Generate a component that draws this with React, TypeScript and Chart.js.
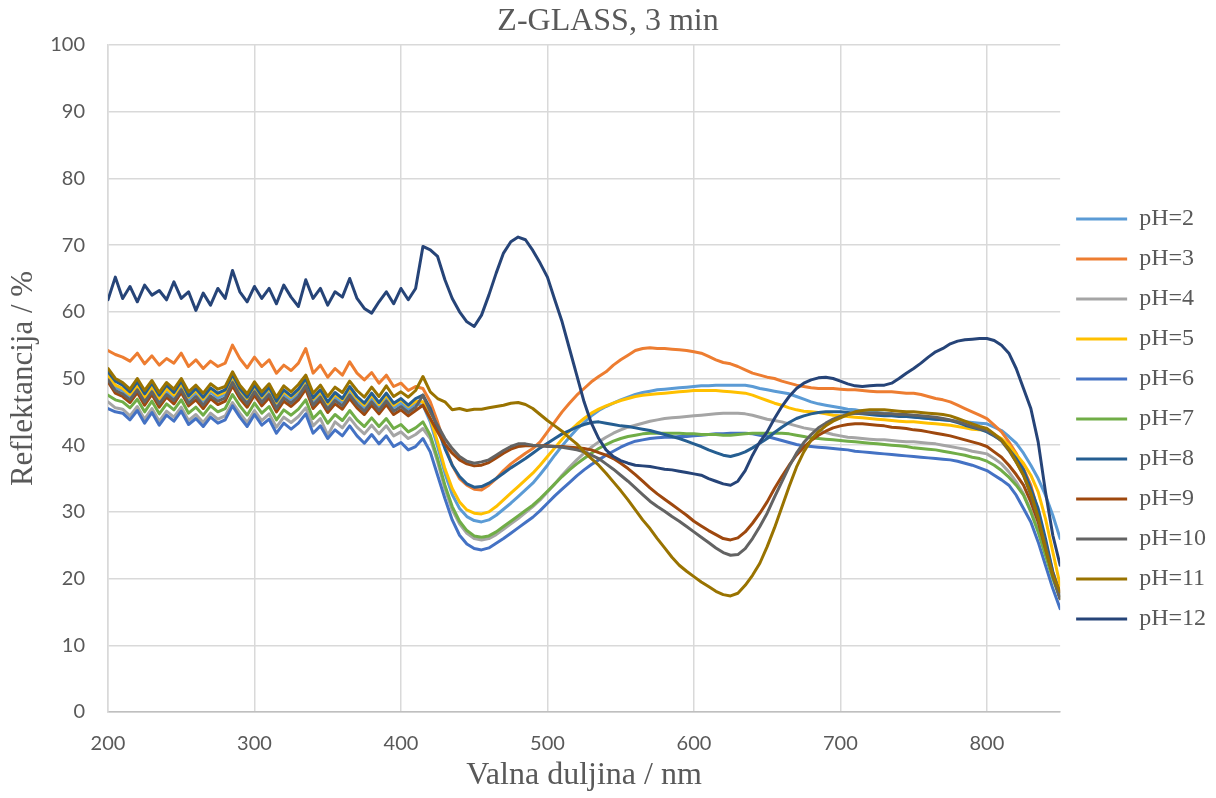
import React, { useEffect, useRef } from 'react';
import { Chart, registerables } from 'chart.js';

Chart.register(...registerables);

// wavelength grid (nm), 200..850 in 5 nm steps
const WAVELENGTHS: number[] = Array.from({ length: 131 }, (_, i) => 200 + 5 * i);

const SERIES_LABELS = ['pH=2', 'pH=3', 'pH=4', 'pH=5', 'pH=6', 'pH=7', 'pH=8', 'pH=9', 'pH=10', 'pH=11', 'pH=12'];
const SERIES_COLORS = ['#5B9BD5', '#ED7D31', '#A5A5A5', '#FFC000', '#4472C4', '#70AD47', '#255E91', '#9E480E', '#636363', '#997300', '#264478'];

const X_TICKS = [200, 300, 400, 500, 600, 700, 800];
const Y_TICKS = [0, 10, 20, 30, 40, 50, 60, 70, 80, 90, 100];

const PH2 = [
  50.0, 48.6, 48.2, 47.2, 48.7, 46.9, 48.4, 46.6, 48.1, 47.2,
  48.8, 46.9, 47.8, 46.6, 48.0, 47.1, 47.6, 49.9, 48.0, 46.7,
  48.5, 46.9, 48.1, 46.0, 47.6, 46.8, 47.8, 49.4, 46.5, 47.7,
  45.9, 47.2, 46.4, 48.0, 46.6, 45.6, 47.0, 45.7, 47.1, 45.6,
  46.3, 45.4, 46.2, 46.0, 43.5, 39.8, 35.8, 32.6, 30.5, 29.3,
  28.7, 28.5, 28.8, 29.5, 30.4, 31.3, 32.3, 33.3, 34.3, 35.6,
  37.0, 38.5, 39.9, 41.2, 42.4, 43.4, 44.4, 45.2, 45.8, 46.3,
  46.8, 47.2, 47.6, 47.9, 48.1, 48.3, 48.4, 48.5, 48.6, 48.7,
  48.8, 48.9, 48.9, 49.0, 49.0, 49.0, 49.0, 49.0, 48.8, 48.5,
  48.3, 48.1, 47.9, 47.7, 47.3, 46.9, 46.5, 46.2, 46.0, 45.8,
  45.6, 45.4, 45.3, 45.1, 45.0, 44.9, 44.8, 44.7, 44.5, 44.4,
  44.3, 44.1, 44.0, 43.9, 43.8, 43.7, 43.6, 43.5, 43.4, 43.3,
  43.2, 42.7, 42.2, 41.3, 40.3, 38.8, 37.0, 35.0, 32.5, 29.5,
  26.0,
];

const PH3 = [
  54.2, 53.6, 53.2, 52.6, 53.8, 52.2, 53.4, 52.0, 53.0, 52.3,
  53.8, 51.8, 52.8, 51.5, 52.6, 51.8, 52.3, 55.0, 53.0, 51.6,
  53.2, 51.8, 52.8, 50.8, 52.0, 51.2, 52.3, 54.5, 50.8, 52.0,
  50.2, 51.5, 50.5, 52.5, 50.8, 49.8, 50.9, 49.3, 50.5, 48.8,
  49.3, 48.2, 48.8, 48.5, 46.5, 43.5, 40.0, 37.0, 35.0, 34.0,
  33.4, 33.3, 34.0, 35.0, 36.2, 37.2, 38.0, 38.8, 39.5, 40.5,
  42.0, 43.5, 45.0, 46.3, 47.5, 48.5, 49.5, 50.3, 51.0, 52.0,
  52.8, 53.5, 54.2, 54.5, 54.6, 54.5, 54.5, 54.4, 54.3, 54.2,
  54.0, 53.8, 53.3, 52.8, 52.4, 52.2, 51.8, 51.3, 50.8, 50.5,
  50.2, 50.0, 49.6, 49.3, 49.0, 48.8, 48.6, 48.5, 48.5, 48.5,
  48.4, 48.3, 48.3, 48.2, 48.1, 48.0, 48.0, 48.0, 47.9, 47.8,
  47.8, 47.6, 47.3, 47.0, 46.8, 46.5, 46.0, 45.5, 45.0, 44.5,
  44.0, 43.0, 42.0, 40.5, 38.8, 36.5, 34.0, 30.0, 25.5, 21.0,
  18.0,
];

const PH4 = [
  46.5, 45.6, 45.4, 44.4, 45.8, 43.9, 45.5, 43.6, 45.1, 44.2,
  45.7, 43.7, 44.6, 43.4, 44.8, 43.9, 44.4, 46.4, 44.8, 43.4,
  45.2, 43.7, 44.7, 42.7, 44.2, 43.4, 44.3, 45.6, 42.9, 44.0,
  41.5, 43.5, 42.6, 44.1, 42.7, 41.7, 43.0, 41.7, 42.9, 41.4,
  42.0, 41.0, 41.6, 42.5, 41.0, 37.5, 33.5, 30.3, 28.2, 26.8,
  26.0, 25.8, 26.0, 26.6, 27.4, 28.2, 29.0, 29.9, 30.8, 31.8,
  33.0, 34.2, 35.5, 36.7, 37.8, 38.8, 39.7, 40.5, 41.2, 41.8,
  42.3, 42.7, 43.0, 43.3, 43.6, 43.8, 44.0, 44.1, 44.2, 44.3,
  44.4, 44.5, 44.6, 44.7, 44.8, 44.8, 44.8, 44.7, 44.5, 44.2,
  43.9, 43.7, 43.5, 43.2, 42.9, 42.6, 42.4, 42.2, 41.9, 41.6,
  41.4, 41.2, 41.1, 41.0, 40.9, 40.8, 40.8, 40.7, 40.6, 40.5,
  40.5, 40.4, 40.3, 40.2, 40.0, 39.8, 39.6, 39.4, 39.1, 38.9,
  38.7, 38.0, 37.2, 36.0, 34.5, 32.7, 30.2, 27.2, 23.7, 20.2,
  17.0,
];

const PH5 = [
  50.5, 49.0, 48.5, 47.6, 49.0, 47.2, 48.8, 47.0, 48.5, 47.5,
  49.2, 47.2, 48.2, 46.9, 48.3, 47.5, 48.0, 50.3, 48.3, 47.0,
  48.8, 47.2, 48.5, 46.4, 48.0, 47.2, 48.2, 49.8, 46.9, 48.0,
  46.2, 47.6, 46.8, 48.5, 47.0, 46.0, 47.5, 46.1, 47.5, 46.0,
  46.8, 45.8, 46.6, 46.5, 44.0, 40.5, 36.5, 33.5, 31.5, 30.3,
  29.8, 29.7, 30.0, 30.8, 31.8, 32.8, 33.8, 34.8, 35.8, 37.0,
  38.3, 39.6, 40.9, 42.1, 43.1, 44.0, 44.8, 45.4, 45.9, 46.3,
  46.7, 47.0, 47.3, 47.5, 47.6, 47.7, 47.8, 47.9, 48.0, 48.1,
  48.2, 48.2, 48.2, 48.2, 48.1, 48.0, 47.9, 47.8, 47.5, 47.1,
  46.7, 46.3, 46.0, 45.6, 45.3, 45.1, 45.0, 44.9, 44.7, 44.5,
  44.4, 44.3, 44.2, 44.1, 44.0, 43.9, 43.8, 43.7, 43.6, 43.5,
  43.5, 43.4, 43.3, 43.2, 43.1, 43.0, 42.8, 42.6, 42.4, 42.3,
  42.2, 41.6, 41.0, 40.0, 38.6, 37.3, 35.5, 33.0, 29.0, 24.0,
  19.0,
];

const PH6 = [
  45.5, 45.0, 44.8, 43.8, 45.2, 43.3, 44.9, 43.0, 44.5, 43.6,
  45.1, 43.1, 44.0, 42.8, 44.2, 43.3, 43.8, 45.9, 44.2, 42.8,
  44.6, 43.0, 43.9, 41.8, 43.3, 42.4, 43.3, 44.7, 41.8, 42.9,
  41.0, 42.3, 41.4, 42.9, 41.4, 40.3, 41.6, 40.2, 41.4, 39.8,
  40.4, 39.3, 39.8, 41.0, 39.0, 35.5, 32.0, 28.8, 26.5, 25.2,
  24.5, 24.3, 24.6, 25.3, 26.0, 26.8, 27.6, 28.4, 29.2, 30.2,
  31.3, 32.4, 33.4, 34.4, 35.4, 36.3, 37.1, 37.8, 38.5, 39.1,
  39.7, 40.2, 40.6, 40.8, 41.0, 41.1, 41.2, 41.2, 41.3, 41.3,
  41.4, 41.5, 41.6, 41.7, 41.7, 41.8, 41.8, 41.8, 41.7, 41.5,
  41.3, 41.0, 40.7, 40.4, 40.1, 39.9, 39.8, 39.7, 39.6, 39.5,
  39.4, 39.3, 39.1, 39.0, 38.9, 38.8, 38.7, 38.6, 38.5, 38.4,
  38.3, 38.2, 38.1, 38.0, 37.9, 37.8, 37.6, 37.3, 37.0, 36.6,
  36.2, 35.5, 34.8, 34.0, 32.5, 30.5, 28.5, 25.5, 22.0, 18.5,
  15.5,
];

const PH7 = [
  47.5, 46.8, 46.5, 45.6, 46.9, 45.0, 46.6, 44.7, 46.2, 45.3,
  46.8, 44.8, 45.7, 44.5, 45.9, 45.0, 45.5, 47.6, 45.9, 44.5,
  46.3, 44.8, 45.8, 43.8, 45.3, 44.5, 45.4, 46.8, 44.0, 45.1,
  43.3, 44.6, 43.7, 45.2, 43.8, 42.8, 44.1, 42.8, 44.0, 42.5,
  43.1, 42.0, 42.6, 43.5, 41.5, 38.0, 34.0, 30.8, 28.6, 27.2,
  26.4, 26.2, 26.4, 27.0, 27.8, 28.6, 29.4, 30.2, 31.0, 32.0,
  33.1, 34.2, 35.3, 36.3, 37.2, 38.0, 38.8, 39.5, 40.1, 40.6,
  41.0, 41.3, 41.5, 41.7, 41.8, 41.8, 41.8, 41.8, 41.8, 41.7,
  41.7, 41.6, 41.6, 41.6, 41.5, 41.5, 41.6, 41.7, 41.8, 41.8,
  41.8, 41.8, 41.8, 41.7, 41.5, 41.3, 41.1, 41.0, 40.9, 40.8,
  40.7, 40.6, 40.5, 40.4, 40.3, 40.2, 40.1, 40.0, 39.9, 39.8,
  39.6, 39.5, 39.4, 39.3, 39.1, 38.9, 38.7, 38.5, 38.2, 38.0,
  37.6, 37.0, 36.2, 35.2, 34.0, 32.5, 30.0, 27.0, 23.5, 20.0,
  17.0,
];

const PH8 = [
  51.0, 49.6, 49.0, 48.0, 49.5, 47.7, 49.3, 47.5, 49.0, 47.9,
  49.6, 47.4, 48.5, 47.2, 48.6, 47.8, 48.3, 50.6, 48.5, 47.2,
  49.0, 47.4, 48.7, 46.6, 48.3, 47.4, 48.4, 50.0, 47.1, 48.3,
  46.5, 47.9, 47.0, 48.8, 47.3, 46.3, 47.8, 46.4, 47.8, 46.3,
  47.0, 46.0, 47.0, 47.5, 45.5, 42.5, 39.5, 37.0, 35.3, 34.2,
  33.7, 33.8, 34.3, 35.0, 35.8, 36.6, 37.3, 38.0, 38.8, 39.6,
  40.3, 41.0, 41.7, 42.2, 42.7, 43.1, 43.4, 43.5, 43.3, 43.1,
  42.9, 42.8, 42.6, 42.4, 42.2, 41.9, 41.6, 41.3, 41.0, 40.6,
  40.2, 39.8, 39.3, 38.9, 38.5, 38.3, 38.6, 39.0, 39.6, 40.3,
  41.0, 41.9, 42.7, 43.4, 44.0, 44.4, 44.7, 44.9, 45.0, 45.0,
  45.0, 44.9, 44.8, 44.7, 44.6, 44.5, 44.4, 44.4, 44.3, 44.3,
  44.2, 44.1, 44.0, 43.9, 43.8, 43.7, 43.4, 43.0, 42.7, 42.4,
  42.0, 41.4, 40.7, 39.4, 38.0, 36.3, 33.5, 30.5, 26.0, 21.0,
  17.5,
];

const PH9 = [
  49.5, 47.8, 47.3, 46.4, 47.9, 46.0, 47.6, 45.7, 47.2, 46.2,
  47.9, 45.9, 46.8, 45.5, 47.0, 46.1, 46.6, 48.9, 47.0, 45.7,
  47.5, 45.9, 47.1, 45.0, 46.6, 45.8, 46.8, 48.4, 45.5, 46.7,
  44.9, 46.2, 45.4, 47.0, 45.6, 44.6, 46.0, 44.7, 46.1, 44.6,
  45.3, 44.4, 45.2, 46.0, 44.0, 42.0, 40.2, 38.8, 37.8, 37.2,
  36.9, 37.0, 37.4, 38.1, 38.8, 39.4, 39.8, 39.9, 39.9, 39.9,
  39.9, 39.8, 39.8, 39.7, 39.6, 39.5, 39.3, 38.9, 38.5, 38.0,
  37.3, 36.5, 35.6, 34.6, 33.6, 32.7, 31.9, 31.1, 30.3, 29.5,
  28.6, 27.9, 27.2, 26.6, 26.0, 25.8, 26.1, 27.0, 28.3, 29.8,
  31.5, 33.5, 35.3, 37.0, 38.5, 39.7, 40.7, 41.5, 42.1, 42.6,
  42.9, 43.1, 43.2, 43.2, 43.1, 43.0, 42.9, 42.7, 42.6, 42.5,
  42.3, 42.2, 42.0, 41.8, 41.6, 41.4, 41.1, 40.8, 40.5, 40.2,
  39.8, 39.0, 38.2, 37.0, 35.6, 34.0, 31.5, 28.5, 24.5, 20.5,
  17.0,
];

const PH10 = [
  49.8, 48.2, 47.7, 46.8, 48.3, 46.5, 48.0, 46.2, 47.6, 46.7,
  48.3, 46.3, 47.3, 46.0, 47.4, 46.6, 47.1, 49.4, 47.5, 46.2,
  48.0, 46.4, 47.6, 45.5, 47.1, 46.3, 47.3, 48.9, 46.0, 47.2,
  45.4, 46.7, 45.9, 47.5, 46.1, 45.1, 46.5, 45.2, 46.6, 45.1,
  45.8, 44.9, 45.7, 47.5, 45.0, 43.0, 41.0, 39.5, 38.3, 37.6,
  37.3, 37.5, 37.8, 38.5, 39.2, 39.8, 40.2, 40.2, 40.0, 39.9,
  39.8, 39.8, 39.7, 39.5, 39.3, 39.0, 38.5, 38.0, 37.2, 36.4,
  35.5, 34.6, 33.6, 32.6, 31.6, 30.8, 30.1, 29.3, 28.6, 27.8,
  27.0, 26.2, 25.4, 24.6, 23.9, 23.5, 23.6, 24.5, 26.0, 27.8,
  29.8, 32.2, 34.5, 36.8, 38.8, 40.4, 41.6, 42.6, 43.3, 43.9,
  44.3, 44.6, 44.8, 44.8, 44.8, 44.8, 44.7, 44.7, 44.6, 44.6,
  44.5, 44.4, 44.3, 44.2, 44.0, 43.8, 43.5, 43.2, 42.8, 42.5,
  42.2, 41.5, 40.6, 39.2, 37.5, 35.5, 32.5, 29.0, 25.0, 20.5,
  17.0,
];

const PH11 = [
  51.5, 50.0, 49.4, 48.4, 50.0, 48.2, 49.7, 47.9, 49.4, 48.4,
  50.0, 48.0, 49.0, 47.8, 49.2, 48.4, 48.8, 51.0, 49.0, 47.7,
  49.5, 48.0, 49.2, 47.2, 48.9, 48.0, 49.1, 50.5, 47.8, 49.0,
  47.3, 48.7, 47.9, 49.6, 48.2, 47.2, 48.7, 47.3, 48.9, 47.3,
  48.0, 47.2, 48.2, 50.3, 48.0, 47.0, 46.5, 45.3, 45.5, 45.2,
  45.4, 45.4, 45.6, 45.8, 46.0, 46.3, 46.4, 46.1, 45.5, 44.6,
  43.7, 42.9, 42.1, 41.1, 40.2, 39.0, 38.0, 37.0, 35.8, 34.5,
  33.2, 31.8, 30.3, 28.8, 27.5, 26.0, 24.6, 23.2, 22.0, 21.1,
  20.3, 19.5, 18.8, 18.1, 17.6, 17.4, 17.8, 19.0, 20.5, 22.3,
  24.8, 27.6, 30.7, 33.8, 36.7, 39.0, 40.8, 42.0, 42.9, 43.6,
  44.1, 44.6, 45.0, 45.2, 45.3, 45.3, 45.3, 45.2, 45.1, 45.0,
  45.0, 44.9, 44.8, 44.7, 44.6, 44.4, 44.0, 43.6, 43.2, 42.8,
  42.5, 41.7, 40.8, 39.4, 37.5, 35.5, 32.8, 29.2, 24.5, 20.5,
  18.0,
];

const PH12 = [
  61.8, 65.2, 62.0, 63.8, 61.5, 64.0, 62.5, 63.2, 61.8, 64.5,
  62.0, 63.0, 60.2, 62.8, 61.0, 63.5, 62.0, 66.2, 63.0, 61.5,
  63.8, 62.0, 63.5, 61.2, 64.0, 62.2, 60.8, 64.8, 62.0, 63.5,
  61.0, 63.0, 62.2, 65.0, 62.0, 60.5, 59.8, 61.5, 63.0, 61.2,
  63.5, 61.8, 63.5, 69.8, 69.3, 68.3, 64.8, 62.0, 60.0, 58.5,
  57.8, 59.5, 62.5, 65.8, 68.8, 70.5, 71.2, 70.8, 69.2, 67.3,
  65.2, 61.8, 58.5, 54.5, 50.5, 46.5, 43.3, 41.0, 39.3, 38.3,
  37.7, 37.3, 37.0, 36.9, 36.8, 36.6, 36.4, 36.3, 36.1, 35.9,
  35.7, 35.5, 35.0, 34.6, 34.2, 34.0, 34.6, 36.2, 38.5, 40.5,
  42.0, 44.0, 45.8, 47.3, 48.5, 49.3, 49.8, 50.1, 50.2, 50.0,
  49.6, 49.2, 48.9, 48.8, 48.9, 49.0, 49.0, 49.3, 50.0, 50.8,
  51.5, 52.3, 53.2, 54.0, 54.5, 55.2, 55.6, 55.8, 55.9, 56.0,
  56.0, 55.7, 55.0, 53.8, 51.5, 48.5, 45.5, 40.5, 33.0, 26.5,
  22.0,
];

const SERIF = "'Liberation Serif', 'Times New Roman', serif";
const SANS = "Lato, 'Open Sans', sans-serif";
const TEXT_COLOR = '#595959';
const GRID_COLOR = '#D9D9D9';

export default function App() {
  const canvasRef = useRef<HTMLCanvasElement | null>(null);

  useEffect(() => {
    const canvas = canvasRef.current;
    if (!canvas) return;
    const seriesValues = [PH2, PH3, PH4, PH5, PH6, PH7, PH8, PH9, PH10, PH11, PH12];
    const n = seriesValues.length;
    const chart = new Chart(canvas, {
      type: 'line',
      data: {
        datasets: seriesValues.map((vals, i) => ({
          label: SERIES_LABELS[i],
          data: vals.map((y, j) => ({ x: WAVELENGTHS[j], y })),
          borderColor: SERIES_COLORS[i],
          backgroundColor: SERIES_COLORS[i],
          borderWidth: 3,
          pointRadius: 0,
          pointHoverRadius: 0,
          tension: 0,
          fill: false,
          order: n - i,
          borderJoinStyle: 'round',
          borderCapStyle: 'round',
        })),
      },
      options: {
        animation: false,
        responsive: false,
        maintainAspectRatio: false,
        layout: { padding: 0 },
        events: [],
        plugins: {
          title: {
            display: true,
            text: 'Z-GLASS, 3 min',
            color: TEXT_COLOR,
            font: { family: SERIF, size: 32, weight: 'normal', lineHeight: 1.125 },
            padding: { top: 4, bottom: 5 },
          },
          legend: {
            position: 'right',
            align: 'center',
            title: {
              display: true,
              text: ' ',
              font: { size: 10, lineHeight: 1 },
              padding: { top: 30, bottom: 0 },
            },
            labels: {
              usePointStyle: true,
              pointStyle: 'line',
              pointStyleWidth: 51,
              padding: 16,
              color: TEXT_COLOR,
              font: { family: SERIF, size: 24 },
              sort: (a: any, b: any) => a.datasetIndex - b.datasetIndex,
            },
          },
          tooltip: { enabled: false },
        },
        scales: {
          x: {
            type: 'linear',
            min: 200,
            max: 850,
            afterBuildTicks: (scale: any) => {
              scale.ticks = X_TICKS.map((v) => ({ value: v }));
            },
            afterFit: (scale: any) => {
              scale.height = 86;
            },
            grid: { color: GRID_COLOR, lineWidth: 1.5, drawTicks: false },
            border: { color: '#BFBFBF', width: 1.5 },
            ticks: {
              color: TEXT_COLOR,
              font: { family: SANS, size: 20 },
              padding: 20,
              maxRotation: 0,
              autoSkip: false,
            },
            title: {
              display: true,
              text: 'Valna duljina / nm',
              color: TEXT_COLOR,
              font: { family: SERIF, size: 32, lineHeight: 1.125 },
              padding: { top: 4, bottom: 4 },
            },
          },
          y: {
            type: 'linear',
            min: 0,
            max: 100,
            afterBuildTicks: (scale: any) => {
              scale.ticks = Y_TICKS.map((v) => ({ value: v }));
            },
            afterFit: (scale: any) => {
              scale.width = 108;
            },
            grid: { color: GRID_COLOR, lineWidth: 1.5, drawTicks: false },
            border: { color: GRID_COLOR, width: 1.5 },
            ticks: {
              color: TEXT_COLOR,
              font: { family: SANS, size: 20 },
              padding: 23,
              autoSkip: false,
            },
            title: {
              display: true,
              text: 'Reflektancija / %',
              color: TEXT_COLOR,
              font: { family: SERIF, size: 31, lineHeight: 1.16 },
              padding: { top: 6, bottom: 4 },
            },
          },
        },
      } as any,
    });
    return () => chart.destroy();
  }, []);

  return (
    <div style={{ position: 'absolute', left: 0, top: 0, width: 1216, height: 798, background: '#fff' }}>
      <canvas ref={canvasRef} width={1216} height={798} style={{ display: 'block' }} />
    </div>
  );
}
